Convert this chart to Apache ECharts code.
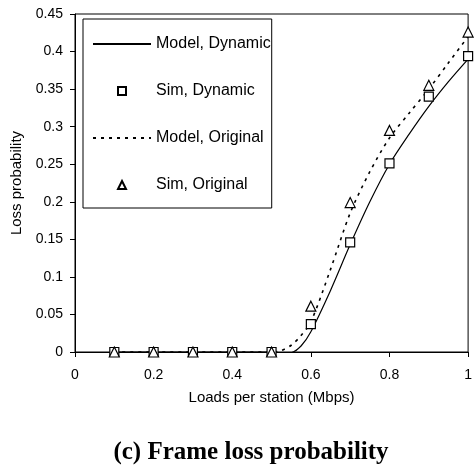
<!DOCTYPE html>
<html>
<head>
<meta charset="utf-8">
<script src="https://cdn.jsdelivr.net/npm/echarts@6/dist/echarts.min.js"></script>
<style>
  html, body { margin: 0; padding: 0; background: #fff; }
  #chart { width: 475px; height: 473px; }
</style>
</head>
<body>
<div id="chart"></div>
<script>
// Simulation loads (Mbps) and measured loss probabilities
const simLoads = [0.1, 0.2, 0.3, 0.4, 0.5, 0.6, 0.7, 0.8, 0.9, 1.0];
const simDynamic = [0, 0, 0, 0, 0, 0.037, 0.146, 0.251, 0.340, 0.394];
const simOriginal = [0, 0, 0, 0, 0, 0.061, 0.199, 0.295, 0.355, 0.426];

// Analytical model curves
const modelLoads = [0.1, 0.2, 0.3, 0.4, 0.5, 0.525, 0.55, 0.575, 0.6, 0.65, 0.7, 0.75, 0.8, 0.85, 0.9, 0.95, 1.0];
const modelDynamic = [0, 0, 0, 0, 0, -0.002, -0.001, 0.008, 0.027, 0.082, 0.143, 0.200, 0.250, 0.290, 0.327, 0.360, 0.390];
const modelOriginal = [0, 0, 0, 0, 0, 0.002, 0.009, 0.022, 0.040, 0.110, 0.185, 0.240, 0.285, 0.318, 0.350, 0.385, 0.420];

const xTicks = ['0', '0.2', '0.4', '0.6', '0.8', '1'];

const pairs = (xs, ys) => xs.map((x, i) => [x, ys[i]]);

const font = 'Arial, "Liberation Sans", sans-serif';
const chart = echarts.init(document.getElementById('chart'), null, { renderer: 'canvas' });

chart.setOption({
  animation: false,
  backgroundColor: '#fff',
  grid: {
    left: 75, right: 4, top: 14, bottom: 121,
    show: true, borderColor: '#000', borderWidth: 1, backgroundColor: 'transparent'
  },
  legend: {
    orient: 'vertical',
    left: 83, top: 19,
    itemWidth: 58, itemHeight: 10, itemGap: 31,
    padding: [17, 1, 15, 9],
    borderColor: '#000', borderWidth: 1, backgroundColor: '#fff',
    textStyle: { fontFamily: font, fontSize: 16, color: '#000' },
    data: ['Model, Dynamic', 'Sim, Dynamic', 'Model, Original', 'Sim, Original']
  },
  xAxis: {
    type: 'value', min: 0, max: 1, interval: 0.2,
    name: 'Loads per station (Mbps)', nameLocation: 'middle', nameGap: 38,
    nameTextStyle: { fontFamily: font, fontSize: 15, color: '#000' },
    axisLine: { lineStyle: { color: '#000', width: 1 } },
    axisTick: { show: true, length: 5, lineStyle: { color: '#000' } },
    axisLabel: {
      fontFamily: font, fontSize: 14, color: '#000', margin: 16,
      formatter: (v) => xTicks[Math.round(v / 0.2)]
    },
    splitLine: { show: false }
  },
  yAxis: {
    type: 'value', min: 0, max: 0.45, interval: 0.05,
    name: 'Loss probability', nameLocation: 'middle', nameGap: 50,
    nameTextStyle: { fontFamily: font, fontSize: 15, color: '#000' },
    axisLine: { show: true, lineStyle: { color: '#000', width: 1 } },
    axisTick: { show: true, length: 5, lineStyle: { color: '#000' } },
    axisLabel: {
      fontFamily: font, fontSize: 14, color: '#000', margin: 12,
      formatter: (v) => (Math.abs(v) < 1e-9 ? '0' : String(+v.toFixed(2)))
    },
    splitLine: { show: false }
  },
  series: [
    {
      name: 'Model, Dynamic', type: 'line', smooth: 0.3,
      data: pairs(modelLoads, modelDynamic),
      symbol: 'none',
      lineStyle: { color: '#000', width: 1.2 },
      itemStyle: { color: 'rgba(0,0,0,0)' },
      z: 2
    },
    {
      name: 'Sim, Dynamic', type: 'line',
      data: pairs(simLoads, simDynamic),
      symbol: 'rect', symbolSize: 9, showSymbol: true,
      lineStyle: { width: 0, opacity: 0 },
      itemStyle: { color: '#fff', borderColor: '#000', borderWidth: 1.2 },
      z: 4
    },
    {
      name: 'Model, Original', type: 'line', smooth: 0.3,
      data: pairs(modelLoads, modelOriginal),
      symbol: 'none',
      lineStyle: { color: '#000', width: 1.6, type: [3, 5] },
      itemStyle: { color: 'rgba(0,0,0,0)' },
      z: 3
    },
    {
      name: 'Sim, Original', type: 'line',
      data: pairs(simLoads, simOriginal),
      symbol: 'triangle', symbolSize: 10, showSymbol: true,
      lineStyle: { width: 0, opacity: 0 },
      itemStyle: { color: '#fff', borderColor: '#000', borderWidth: 1.2 },
      z: 5
    }
  ],
  graphic: [
    {
      type: 'text', x: 251, y: 453,
      style: {
        text: '(c) Frame loss probability',
        font: 'bold 25px "Liberation Serif", "Times New Roman", serif',
        fill: '#000', align: 'center', verticalAlign: 'middle'
      }
    }
  ]
});
</script>
</body>
</html>
